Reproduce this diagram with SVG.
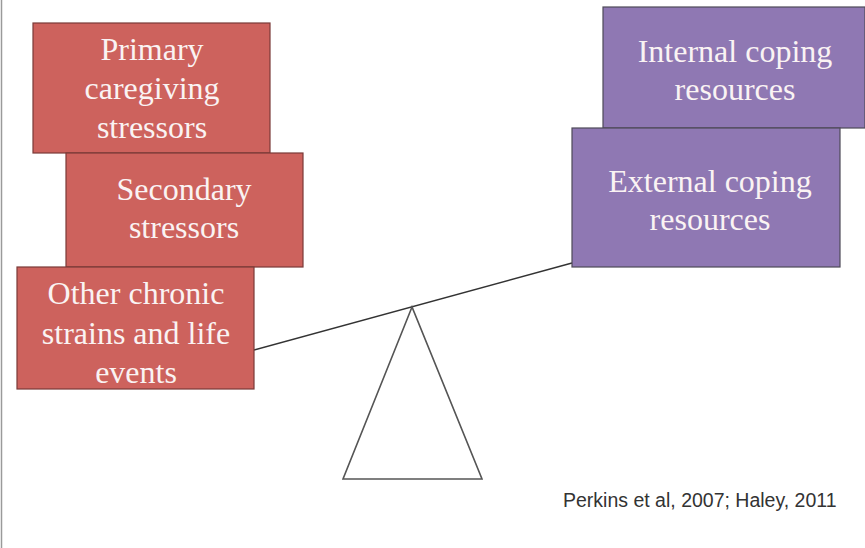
<svg xmlns="http://www.w3.org/2000/svg" width="865" height="548" viewBox="0 0 865 548">
<style>
.red{fill:#CD625D;stroke:#7a3a38;stroke-width:1.2}
.pur{fill:#8F78B3;stroke:#4e4a58;stroke-width:1.2}
.lbl{font-family:"Liberation Serif","Times New Roman",serif;font-size:32px;fill:#faf3f3;text-anchor:middle}
.cite{font-family:"Liberation Sans",Arial,sans-serif;font-size:19.5px;fill:#333333}
</style>
<rect width="865" height="548" fill="#ffffff"/>
<line x1="1.5" y1="0" x2="1.5" y2="548" stroke="#9a9a9a" stroke-width="1.5"/>
<g id="connectors">
<line id="beam" x1="254" y1="350" x2="572" y2="263" stroke="#333" stroke-width="1.5"/>
<polygon id="fulcrum" points="412,307 343,479 482,479" fill="#ffffff" stroke="#555" stroke-width="1.6"/>
</g>
<g id="primary">
<rect class="red" x="33" y="23" width="237" height="130"/>
<text class="lbl" x="152" y="60">Primary</text>
<text class="lbl" x="152" y="99">caregiving</text>
<text class="lbl" x="152" y="138">stressors</text>
</g>
<g id="secondary">
<rect class="red" x="66" y="153" width="237" height="114"/>
<text class="lbl" x="184" y="200">Secondary</text>
<text class="lbl" x="184" y="238">stressors</text>
</g>
<g id="other">
<rect class="red" x="17" y="267" width="237" height="122"/>
<text class="lbl" x="136" y="304">Other chronic</text>
<text class="lbl" x="136" y="344">strains and life</text>
<text class="lbl" x="136" y="383">events</text>
</g>
<g id="internal">
<rect class="pur" x="603" y="7" width="262" height="121"/>
<text class="lbl" x="735" y="62">Internal coping</text>
<text class="lbl" x="735" y="100">resources</text>
</g>
<g id="external">
<rect class="pur" x="572" y="128" width="268" height="139"/>
<text class="lbl" x="710" y="192">External coping</text>
<text class="lbl" x="710" y="230">resources</text>
</g>
<g id="citation">
<text class="cite" x="563" y="507">Perkins et al, 2007; Haley, 2011</text>
</g>
</svg>
